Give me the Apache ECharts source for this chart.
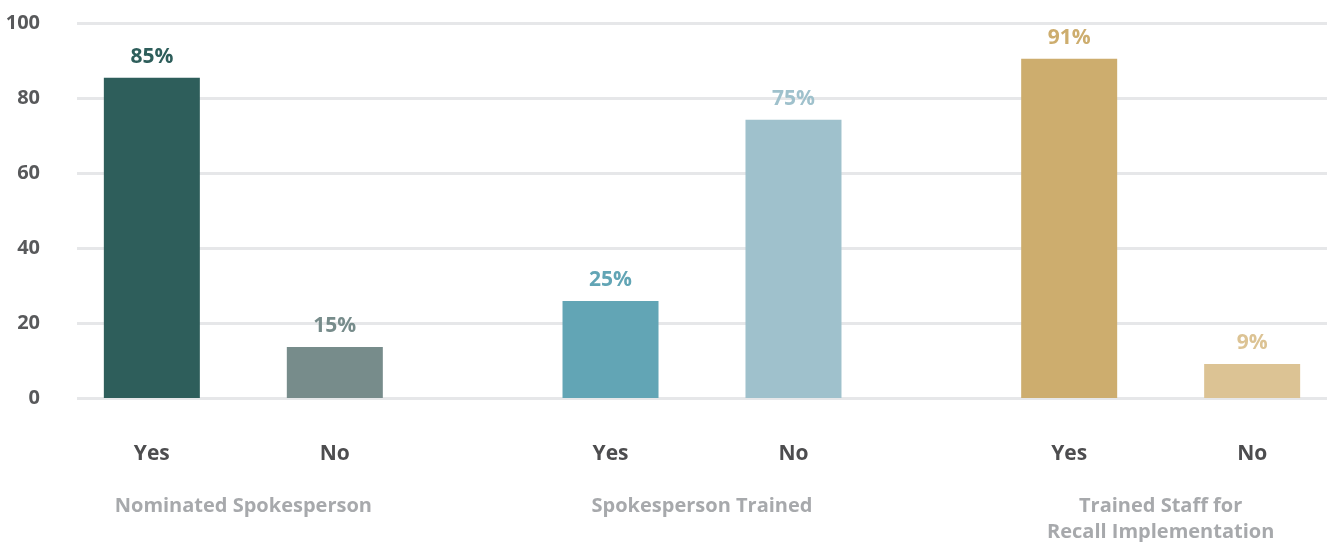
<!DOCTYPE html>
<html>
<head>
<meta charset="utf-8">
<style>
  html, body { margin: 0; padding: 0; background: #ffffff; }
  #chart { width: 1327px; height: 542px; }
</style>
<script src="https://cdn.jsdelivr.net/npm/echarts@6/dist/echarts.min.js"></script>
</head>
<body>
<div id="chart"></div>
<script>
// Data
const groups = ['Nominated Spokesperson', 'Spokesperson Trained', 'Trained Staff for\nRecall Implementation'];
const yesValues = [85.4, 25.9, 90.5];
const noValues = [13.6, 74.2, 9.1];
const yesLabels = ['85%', '25%', '91%'];
const noLabels = ['15%', '75%', '9%'];
const yesColors = ['#2e5e5b', '#62a5b5', '#cdad6e'];
const noColors = ['#778c8b', '#9fc1cc', '#dcc394'];
const yTicks = [0, 20, 40, 60, 80, 100];

const FONT = '"Open Sans"';

const chart = echarts.init(document.getElementById('chart'));

// builds a bar series where each bar carries its own colour and label
const makeSeries = (name, values, labels, colors) => ({
  name: name,
  type: 'bar',
  xAxisIndex: 1,
  yAxisIndex: 1,
  barWidth: 96,
  barGap: '90.6%',
  data: values.map((v, i) => ({
    value: v,
    itemStyle: { color: colors[i] },
    label: { color: colors[i], formatter: labels[i] }
  })),
  label: {
    show: true,
    position: 'top',
    distance: 10,
    fontFamily: FONT,
    fontWeight: 'bold',
    fontSize: 21
  }
});

const option = {
  animation: false,
  // grid 0: gridlines + y labels, grid 1: the bars (wider than the canvas)
  grid: [
    { left: 77, right: 0, top: 23, bottom: 144, outerBoundsMode: 'none' },
    { left: 14, width: 1376, top: 23, bottom: 144, outerBoundsMode: 'none' }
  ],
  xAxis: [
    { gridIndex: 0, type: 'value', min: 0, max: 1, show: false },
    {
      gridIndex: 1,
      type: 'category',
      data: groups,
      axisLine: { show: false },
      axisTick: { show: false },
      axisLabel: {
        margin: 41,
        interval: 0,
        formatter: (val) => '{yes|Yes}{no|No}\n{sp| }\n{grp|' + val + '}',
        rich: {
          yes: { width: 183, align: 'center', lineHeight: 30, fontFamily: FONT, fontWeight: 'bold', fontSize: 21, color: '#4d4d4f' },
          no: { width: 183, align: 'center', lineHeight: 30, fontFamily: FONT, fontWeight: 'bold', fontSize: 21, color: '#4d4d4f' },
          sp: { lineHeight: 24, fontSize: 1 },
          grp: { lineHeight: 26, align: 'center', fontFamily: FONT, fontWeight: 'bold', fontSize: 20, color: '#a7a9ac' }
        }
      }
    }
  ],
  yAxis: [
    {
      gridIndex: 0,
      type: 'value',
      min: yTicks[0],
      max: yTicks[yTicks.length - 1],
      interval: 20,
      axisLine: { show: false },
      axisTick: { show: false },
      axisLabel: {
        margin: 37,
        fontFamily: FONT,
        fontWeight: 'bold',
        fontSize: 20,
        color: '#58595b'
      },
      splitLine: { lineStyle: { color: '#e6e7e9', width: 3 } }
    },
    { gridIndex: 1, type: 'value', min: 0, max: 100, show: false }
  ],
  series: [
    makeSeries('Yes', yesValues, yesLabels, yesColors),
    makeSeries('No', noValues, noLabels, noColors)
  ]
};

chart.setOption(option);
window.addEventListener('resize', () => chart.resize());
</script>
</body>
</html>
